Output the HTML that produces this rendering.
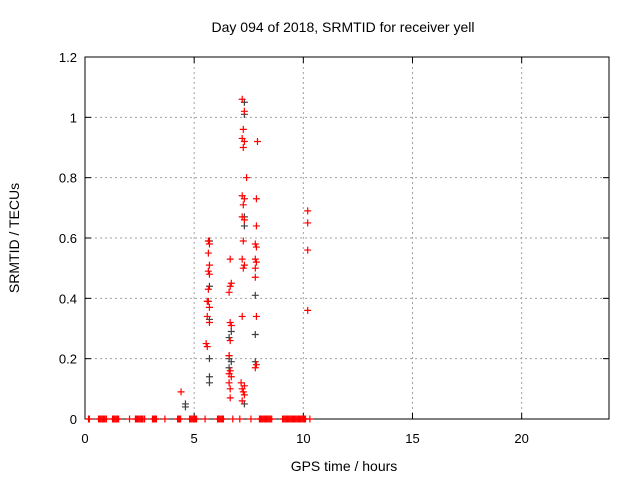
<!DOCTYPE html>
<html><head><meta charset="utf-8"><style>
body{margin:0;background:#fff;}
svg{display:block;font-family:"Liberation Sans",sans-serif;}
</style></head><body>
<svg id="chart" width="640" height="480" xmlns="http://www.w3.org/2000/svg">
<rect width="640" height="480" fill="#fff"/>
<text x="343" y="32" font-size="14" text-anchor="middle">Day 094 of 2018, SRMTID for receiver yell</text>
<text x="344" y="471" font-size="14" text-anchor="middle">GPS time / hours</text>
<text x="19" y="238" font-size="14" text-anchor="middle" transform="rotate(-90 19 238)">SRMTID / TECUs</text>
<g id="grid"></g><g id="axes"></g><g id="marks"></g>
</svg>
<script>
const xTicks=[0,5,10,15,20];
const yTicks=[0,0.2,0.4,0.6,0.8,1,1.2];
const yTickLabels=["0","0.2","0.4","0.6","0.8","1","1.2"];
const grayX=[4.6,4.6,5.7,5.7,5.7,5.7,5.7,5.7,6.6,6.6,6.6,6.6,6.7,6.7,7.3,7.3,7.3,7.3,7.3,7.8,7.8,7.8];
const grayY=[0.05,0.04,0.59,0.44,0.33,0.14,0.12,0.2,0.2,0.17,0.21,0.27,0.19,0.29,1.05,1.01,0.67,0.64,0.05,0.41,0.28,0.19];
const redX=[4.4,5.65,5.7,5.65,5.7,5.65,5.7,5.65,5.6,5.65,5.7,5.6,5.7,5.55,5.6,6.65,6.7,6.65,6.6,6.65,6.7,6.65,6.6,6.65,6.6,6.7,6.6,6.65,6.65,7.2,7.3,7.25,7.2,7.3,7.25,7.2,7.3,7.25,7.2,7.3,7.25,7.2,7.3,7.25,7.2,7.15,7.3,7.2,7.25,7.3,7.2,7.4,7.9,7.85,7.85,7.8,7.85,7.8,7.85,7.8,7.8,7.85,7.85,7.8,10.2,10.2,10.2,10.2];
const redY=[0.09,0.59,0.58,0.55,0.51,0.49,0.48,0.43,0.39,0.39,0.37,0.34,0.32,0.25,0.24,0.53,0.45,0.44,0.42,0.32,0.31,0.26,0.21,0.16,0.15,0.14,0.12,0.10,0.07,1.06,1.02,0.96,0.93,0.92,0.90,0.74,0.73,0.71,0.67,0.66,0.59,0.53,0.51,0.50,0.34,0.12,0.11,0.10,0.09,0.08,0.06,0.80,0.92,0.73,0.64,0.58,0.57,0.53,0.52,0.50,0.47,0.34,0.18,0.17,0.69,0.65,0.56,0.36];
const zeroX=[0.16,0.2,0.62,0.67,0.72,0.77,0.82,0.87,0.92,0.98,1.26,1.31,1.36,1.41,1.46,1.5,1.54,2.04,2.31,2.36,2.41,2.46,2.51,2.56,2.61,2.66,2.73,3.09,3.14,3.19,3.23,3.27,3.66,4.24,4.29,4.33,4.38,4.79,4.84,4.89,4.94,4.99,5.04,5.08,5.11,5.5,6.07,6.12,6.17,6.22,6.27,6.31,6.34,6.77,7.09,7.6,7.99,8.04,8.09,8.14,8.19,8.24,8.29,8.34,8.39,8.44,8.49,8.55,9.05,9.1,9.15,9.2,9.25,9.3,9.35,9.4,9.45,9.5,9.55,9.6,9.65,9.7,9.75,9.8,9.85,9.9,9.95,10.0,10.05,10.1,10.3];
const X0=85,X1=609,Y0=419,Y1=57;
const sx=v=>X0+(X1-X0)*v/24, sy=v=>Y0-(Y0-Y1)*v/1.2;
const NS="http://www.w3.org/2000/svg";
function mk(t,a,p){const e=document.createElementNS(NS,t);for(const k in a)e.setAttribute(k,a[k]);p.appendChild(e);return e;}
const grid=document.getElementById('grid'),axes=document.getElementById('axes'),marks=document.getElementById('marks');
xTicks.forEach(v=>{
 if(v>0){const g=mk('line',{x1:sx(v),x2:sx(v),y1:Y0,y2:Y1,stroke:'#a0a0a0','stroke-dasharray':'2,3'},grid);
 
 }
 const t=mk('text',{x:sx(v),y:Y0+24,'font-size':13,'text-anchor':'middle'},axes);t.textContent=v;
 
 
 mk('line',{x1:sx(v),x2:sx(v),y1:Y0,y2:Y0-6,stroke:'#000'},axes);
 mk('line',{x1:sx(v),x2:sx(v),y1:Y1,y2:Y1+6,stroke:'#000'},axes);
});
yTicks.forEach((v,i)=>{
 if(v>0&&v<1.2){const g=mk('line',{x1:X0,x2:X1,y1:sy(v),y2:sy(v),stroke:'#a0a0a0','stroke-dasharray':'2,3'},grid);
 
 }
 const t=mk('text',{x:X0-8,y:sy(v)+5,'font-size':13,'text-anchor':'end'},axes);t.textContent=yTickLabels[i];
 
 
 mk('line',{x1:X0,x2:X0+6,y1:sy(v),y2:sy(v),stroke:'#000'},axes);
 mk('line',{x1:X1,x2:X1-6,y1:sy(v),y2:sy(v),stroke:'#000'},axes);
});
const fr=mk('rect',{x:X0,y:Y1,width:X1-X0,height:Y0-Y1,fill:'none',stroke:'#000'},axes);


function cross(x,y,c){const p=mk('path',{d:`M${sx(x)-3.5},${sy(y)}h7M${sx(x)},${sy(y)-3.5}v7`,stroke:c,'stroke-width':1.2,fill:'none'},marks);return p;}
grayX.forEach((x,i)=>{const p=cross(x,grayY[i],'#404040');
 
 });
zeroX.forEach(x=>{const p=cross(x,0,'#ff0000');
 
 });
redX.forEach((x,i)=>{const p=cross(x,redY[i],'#ff0000');
 
 });
</script>
</body></html>
